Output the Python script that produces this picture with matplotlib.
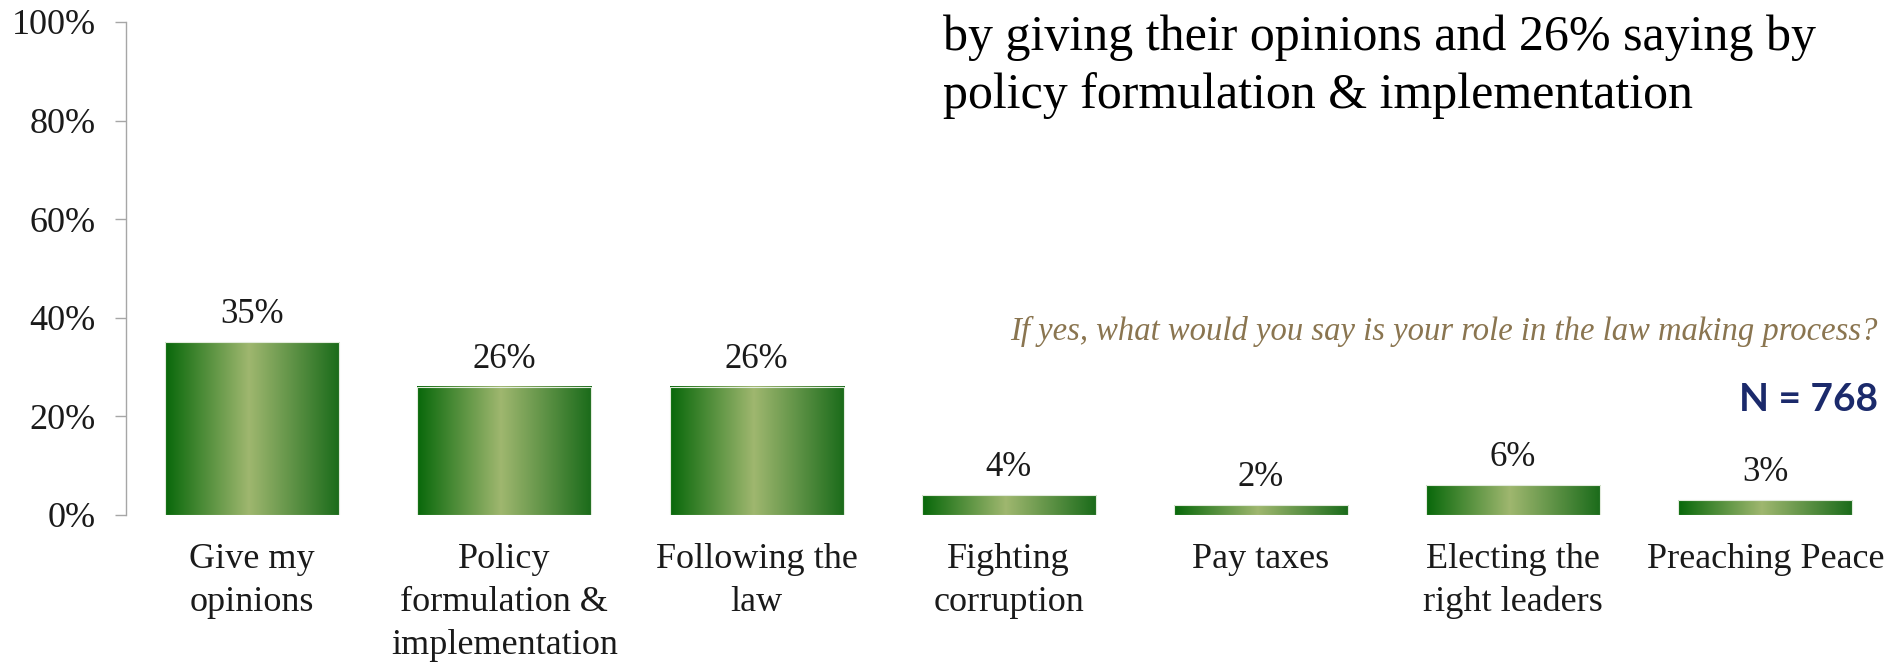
import numpy as np
import matplotlib.pyplot as plt
from matplotlib.colors import LinearSegmentedColormap

categories = ['Give my\nopinions', 'Policy\nformulation &\nimplementation',
              'Following the\nlaw', 'Fighting\ncorruption', 'Pay taxes',
              'Electing the\nright leaders', 'Preaching Peace']
shares = [35, 26, 26, 4, 2, 6, 3]
yticks = [0, 20, 40, 60, 80, 100]

headline = ['by giving their opinions and 26% saying by',
            'policy formulation & implementation']
question = 'If yes, what would you say is your role in the law making process?'
sample = 'N = 768'

serif = 'Liberation Serif'

fig = plt.figure(figsize=(18.99, 6.64), dpi=100)
ax = fig.add_axes([0.0664, 0.2244, 0.9296, 0.7426])

# green metallic gradient across each bar
green = LinearSegmentedColormap.from_list(
    'bar_green', [(0.0, '#08680a'), (0.48, '#9fb76f'), (1.0, '#1a6b1a')])
grad = np.linspace(0, 1, 256).reshape(1, -1)

x = np.arange(len(categories))
bars = ax.bar(x, shares, width=0.69, color='none', edgecolor='#e2ebdc',
              linewidth=0.8, zorder=3)
for b in bars:
    x0, w, h = b.get_x(), b.get_width(), b.get_height()
    ax.imshow(grad, cmap=green, aspect='auto', extent=(x0, x0 + w, 0, h),
              zorder=2, interpolation='bilinear')

for b, v in zip(bars, shares):
    ax.annotate('{}%'.format(v), (b.get_x() + b.get_width() / 2, b.get_height()),
                xytext=(0, 8), textcoords='offset points', ha='center',
                va='bottom', fontsize=25, family=serif, color='#1a1a1a')

ax.set_xlim(-0.5, 6.5)
ax.set_ylim(0, 100)
ax.set_yticks(yticks)
ax.set_yticklabels(['{}%'.format(t) for t in yticks], fontsize=26,
                   family=serif, color='#1a1a1a')
ax.tick_params(axis='y', length=8, width=1, color='#a6a6a6', pad=14)
ax.set_xticks(x)
ax.set_xticklabels(categories, fontsize=26, family=serif, color='#1a1a1a',
                   linespacing=1.4)
ax.tick_params(axis='x', length=0, pad=20)

for s in ['top', 'right', 'bottom']:
    ax.spines[s].set_visible(False)
ax.spines['left'].set_color('#a6a6a6')
ax.spines['left'].set_linewidth(1)

fig.text(0.4966, 0.9247, headline[0], fontsize=36, family=serif,
         color='black', va='baseline')
fig.text(0.4966, 0.8374, headline[1], fontsize=36, family=serif,
         color='black', va='baseline')
fig.text(0.989, 0.488, question, fontsize=23.5, family=serif, style='italic',
         color='#8a7550', ha='right', va='baseline')
fig.text(0.989, 0.381, sample, fontsize=28, family='Lato', weight='bold',
         color='#1b2a6b', ha='right', va='baseline')

fig.savefig('out.png', dpi=100)
